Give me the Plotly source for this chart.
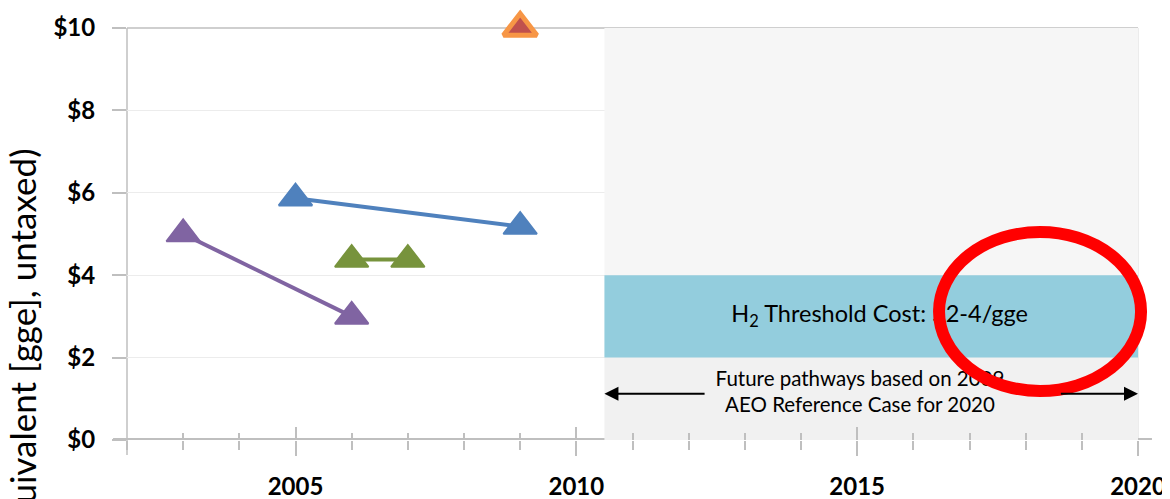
import plotly.graph_objects as go

# ---------------- data ----------------
years_purple = [2003, 2006]
cost_purple = [5.0, 3.0]
years_blue = [2005, 2009]
cost_blue = [5.87, 5.18]
years_green = [2006, 2007]
cost_green = [4.38, 4.38]
years_orange = [2009]
cost_orange = [10.0]

threshold_low, threshold_high = 2, 4
future_start, future_end = 2010.5, 2020
x_range = [2002, 2020]
y_range = [0, 10]
y_ticks = [0, 2, 4, 6, 8, 10]
y_ticktext = ["$" + str(v) for v in y_ticks]

threshold_label = "H<sub>2</sub> Threshold Cost: $2-4/gge"
future_label = "Future pathways based on 2009<br>AEO Reference Case for 2020"
y_title = "Hydrogen Cost ($/gallon gasoline equivalent [gge], untaxed)"

FONT = "Lato"
AXIS_GRAY = "#bfbfbf"

fig = go.Figure()

def series(x, y, color):
    fig.add_trace(go.Scatter(
        x=x, y=y, mode="lines+markers",
        line=dict(color=color, width=4),
        marker=dict(symbol="triangle-up", size=29, color=color,
                    line=dict(color=color, width=2)),
        cliponaxis=False, showlegend=False, hoverinfo="skip"))

series(years_purple, cost_purple, "#8064a2")
series(years_blue, cost_blue, "#4f81bd")
series(years_green, cost_green, "#77933c")
fig.add_trace(go.Scatter(
    x=years_orange, y=cost_orange, mode="markers",
    marker=dict(symbol="triangle-up", size=29, color="#c0504d",
                line=dict(color="#f79646", width=5)),
    cliponaxis=False, showlegend=False, hoverinfo="skip"))

# labels as text traces (so the red ellipse can sit on top of them)
fig.add_trace(go.Scatter(
    x=[2015.4], y=[(threshold_low + threshold_high) / 2], mode="text",
    text=[threshold_label], textposition="middle center",
    textfont=dict(family=FONT, size=23.5, color="black"),
    cliponaxis=False, showlegend=False, hoverinfo="skip"))
fig.add_trace(go.Scatter(
    x=[2015.05], y=[1.12], mode="text",
    text=[future_label], textposition="middle center",
    textfont=dict(family=FONT, size=20.5, color="black"),
    cliponaxis=False, showlegend=False, hoverinfo="skip"))

# invisible trace for the overlaid tick axis (ticks crossing the x axis line)
fig.add_trace(go.Scatter(
    x=years_blue, y=cost_blue, xaxis="x2", mode="markers",
    marker=dict(opacity=0), showlegend=False, hoverinfo="skip"))

shapes = [
    dict(type="rect", xref="x", yref="y", x0=future_start, x1=future_end,
         y0=threshold_high, y1=y_range[1], fillcolor="#f6f6f6",
         line=dict(width=0), layer="between"),
    dict(type="rect", xref="x", yref="y", x0=future_start, x1=future_end,
         y0=y_range[0], y1=threshold_low, fillcolor="#f1f1f1",
         line=dict(width=0), layer="between"),
    dict(type="rect", xref="x", yref="y", x0=future_start, x1=future_end,
         y0=threshold_low, y1=threshold_high, fillcolor="#93cddd",
         line=dict(width=0), layer="between"),
    dict(type="line", xref="paper", yref="paper", x0=0, x1=1, y0=1, y1=1,
         line=dict(color=AXIS_GRAY, width=1.5), layer="between"),
    dict(type="line", xref="paper", yref="paper", x0=1, x1=1, y0=0, y1=1,
         line=dict(color="#d9d9d9", width=1), layer="between"),
    dict(type="line", xref="paper", yref="paper", x0=0, x1=0, y0=-0.0364, y1=1,
         line=dict(color=AXIS_GRAY, width=1.5), layer="between"),
    dict(type="line", xref="paper", yref="y", x0=-0.0138, x1=1.0138, y0=0, y1=0,
         line=dict(color=AXIS_GRAY, width=4), layer="between"),
    dict(type="circle", xref="paper", yref="paper", x0=0.8032, x1=1.003,
         y0=0.1189, y1=0.5049, line=dict(color="#ff0000", width=12),
         fillcolor="rgba(0,0,0,0)", layer="above"),
]

annotations = [
    dict(x=future_start, y=1.12, ax=2012.31, ay=1.12, xref="x", yref="y",
         axref="x", ayref="y", text="", showarrow=True, arrowhead=2,
         arrowsize=1.4, arrowwidth=2, arrowcolor="black", standoff=0),
    dict(x=future_end, y=1.12, ax=2018.6, ay=1.12, xref="x", yref="y",
         axref="x", ayref="y", text="", showarrow=True, arrowhead=2,
         arrowsize=1.4, arrowwidth=2, arrowcolor="black", standoff=0),
    dict(x=-0.1266, y=0.7136, xref="paper", yref="paper", text=y_title,
         textangle=-90, xanchor="left", yanchor="top", showarrow=False,
         font=dict(family=FONT, size=35, color="black")),
]

tick_common = dict(tickcolor=AXIS_GRAY, tickwidth=1.5)

# page body adds an 8px offset; figure sized to end at the window edge
fig.update_layout(
    width=1162, height=491,
    margin=dict(l=119, r=32, t=20, b=59, autoexpand=False),
    paper_bgcolor="white", plot_bgcolor="white",
    shapes=shapes, annotations=annotations,
    xaxis=dict(
        range=x_range, showgrid=False, zeroline=False, showline=False,
        automargin=False,
        tick0=2005, dtick=5, ticks="outside", ticklen=15, **tick_common,
        minor=dict(dtick=1, ticks="outside", ticklen=9, showgrid=False,
                   **tick_common),
        tickfont=dict(family=FONT, size=24, color="black", weight="bold"),
        ticklabelstandoff=10,
    ),
    xaxis2=dict(
        range=x_range, overlaying="x", anchor="y", side="bottom",
        automargin=False,
        showgrid=False, zeroline=False, showline=False, showticklabels=False,
        tick0=2005, dtick=5, ticks="inside", ticklen=13, **tick_common,
        minor=dict(dtick=1, ticks="inside", ticklen=7, showgrid=False,
                   **tick_common),
    ),
    yaxis=dict(
        range=y_range, tickmode="array", tickvals=y_ticks, ticktext=y_ticktext,
        automargin=False,
        showgrid=True, gridcolor="#ececec", gridwidth=1,
        zeroline=False, showline=False,
        ticks="outside", ticklen=14, **tick_common,
        tickfont=dict(family=FONT, size=24, color="black", weight="bold"),
        ticklabelstandoff=12,
    ),
)

fig.write_html("out.html")
